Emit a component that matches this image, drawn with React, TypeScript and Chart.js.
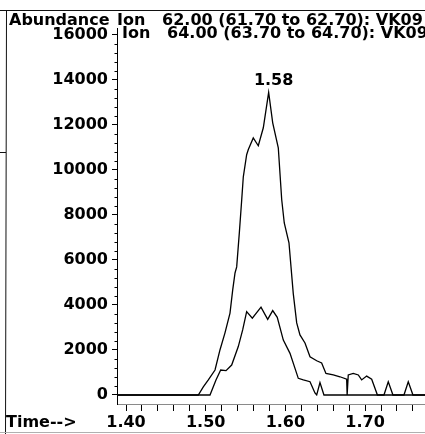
import React, { useEffect, useRef } from "react";
import { Chart, registerables } from "chart.js";

Chart.register(...registerables);

// Ion 62.00 trace (retention time in minutes, abundance)
const ion62Times = [
  1.385, 1.4907, 1.497, 1.5033, 1.5117, 1.5179, 1.5242, 1.5305, 1.5339, 1.5368,
  1.5389, 1.5422, 1.5452, 1.5472, 1.5514, 1.5535, 1.5597, 1.566, 1.5723, 1.579,
  1.5841, 1.5911, 1.5954, 1.5986, 1.6045, 1.6099, 1.6142, 1.6183, 1.6246, 1.6309,
  1.6393, 1.6455, 1.6509, 1.6601, 1.6685, 1.6769, 1.6775, 1.6789, 1.6852, 1.6915,
  1.6957, 1.702, 1.7083, 1.7155, 1.7237, 1.7291, 1.735, 1.7488, 1.7542, 1.7601,
  1.78,
];
const ion62Values = [
  0, 0, 360, 670, 1110, 2000, 2760, 3640, 4670, 5420,
  5690, 7200, 8670, 9690, 10670, 10900, 11420, 11070, 11870, 13440,
  12090, 10980, 8670, 7640, 6760, 4500, 3200, 2670, 2310, 1700,
  1520, 1420, 960, 890, 810, 700, 0, 890, 960, 890,
  670, 840, 700, 0, 0, 590, 0, 0, 590, 0,
  0,
];

// Ion 64.00 trace
const ion64Times = [
  1.385, 1.5054, 1.5129, 1.5188, 1.5255, 1.5326, 1.5409, 1.5464, 1.5514, 1.5585,
  1.5694, 1.5778, 1.5841, 1.5898, 1.5974, 1.6058, 1.6162, 1.6225, 1.6309, 1.6371,
  1.6393, 1.6434, 1.6484, 1.78,
];
const ion64Values = [
  0, 0, 670, 1110, 1080, 1330, 2150, 2890, 3700, 3410,
  3900, 3360, 3750, 3450, 2440, 1850, 740, 670, 590, 90,
  0, 550, 0, 0,
];

const headerLines = [
  "Ion   62.00 (61.70 to 62.70): VK09",
  "Ion   64.00 (63.70 to 64.70): VK09",
];
const yAxisTitle = "Abundance";
const xAxisTitle = "Time-->";
const peakLabel = "1.58";
const peakTime = 1.579;
const peakValue = 13440;

// axis ticks
const yTickValues = [0, 2000, 4000, 6000, 8000, 10000, 12000, 14000, 16000];
const xTickValues = [
  1.4, 1.42, 1.44, 1.46, 1.48, 1.5, 1.52, 1.54, 1.56, 1.58, 1.6, 1.62, 1.64, 1.66,
  1.68, 1.7, 1.72, 1.74, 1.76,
];
const xTickLabels = ["1.40", "1.50", "1.60", "1.70"];

const xMin = 1.3887;
const xMax = 1.7752;
const yMin = -400;
const yMax = 16300;
const yMinorStep = 400;

const FONT = '"DejaVu Sans", "Liberation Sans", sans-serif';

const decorPlugin = {
  id: "decor",
  beforeDraw(chart: any) {
    const ctx = chart.ctx;
    ctx.save();
    ctx.fillStyle = "#fff";
    ctx.fillRect(0, 0, chart.width, chart.height);
    ctx.restore();
  },
  afterDraw(chart: any) {
    const ctx = chart.ctx;
    const xs = chart.scales.x;
    const ys = chart.scales.y;
    ctx.save();
    const line = (x1: number, y1: number, x2: number, y2: number) => {
      ctx.beginPath();
      ctx.moveTo(x1, y1);
      ctx.lineTo(x2, y2);
      ctx.stroke();
    };
    // page frame
    ctx.strokeStyle = "#111";
    ctx.lineWidth = 1;
    line(0, 10.5, chart.width, 10.5);
    line(6.5, 10, 5.5, chart.height);
    line(0, 152.5, 6, 152.5);
    ctx.strokeStyle = "#b0b0b0";
    line(0, 432.5, chart.width, 432.5);

    // minor y ticks
    ctx.strokeStyle = "#000";
    const top = yTickValues[yTickValues.length - 1];
    for (let v = yMinorStep; v < top; v += yMinorStep) {
      if (yTickValues.indexOf(v) >= 0) continue;
      const py = Math.round(ys.getPixelForValue(v)) + 0.5;
      line(xs.left - 2.5, py, xs.left, py);
    }

    // texts
    ctx.fillStyle = "#000";
    ctx.font = `bold 16px ${FONT}`;
    ctx.textBaseline = "alphabetic";
    ctx.textAlign = "left";
    ctx.fillText(yAxisTitle, 9, 25);
    ctx.fillText(headerLines[0], 117, 25);
    ctx.fillText(headerLines[1], 122, 38);
    ctx.fillText(xAxisTitle, 6, 427);

    ctx.textAlign = "center";
    const px = xs.getPixelForValue(peakTime);
    const py = ys.getPixelForValue(peakValue);
    ctx.fillText(peakLabel, px + 5, py - 7);
    ctx.restore();
  },
};

export default function App() {
  const ref = useRef<HTMLCanvasElement | null>(null);

  useEffect(() => {
    if (!ref.current) return;
    const toPts = (ts: number[], vs: number[]) => ts.map((t, i) => ({ x: t, y: vs[i] }));
    const tickFont = { family: FONT, size: 16, weight: "bold" as const };
    const chart = new Chart(ref.current, {
      type: "line",
      data: {
        datasets: [
          {
            label: headerLines[0],
            data: toPts(ion62Times, ion62Values),
            borderColor: "#000",
            borderWidth: 1.3,
            pointRadius: 0,
            tension: 0,
            fill: false,
          },
          {
            label: headerLines[1],
            data: toPts(ion64Times, ion64Values),
            borderColor: "#000",
            borderWidth: 1.3,
            pointRadius: 0,
            tension: 0,
            fill: false,
          },
        ],
      },
      options: {
        animation: false,
        responsive: false,
        devicePixelRatio: 1,
        layout: { padding: { top: 28, left: 0, right: 0, bottom: 0 } },
        plugins: {
          legend: { display: false },
          tooltip: { enabled: false },
          title: { display: false },
        },
        scales: {
          x: {
            type: "linear",
            min: xMin,
            max: xMax,
            afterBuildTicks: (s: any) => {
              s.ticks = xTickValues.map((v) => ({ value: v }));
            },
            afterFit: (s: any) => {
              s.height = 30;
            },
            border: { display: true, color: "#8a8a8a", width: 1 },
            grid: {
              drawOnChartArea: false,
              drawTicks: true,
              tickLength: 7,
              tickColor: "#000",
              color: "#000",
            },
            ticks: {
              autoSkip: false,
              maxRotation: 0,
              padding: 2,
              color: "#000",
              font: tickFont,
              callback: (v: any) => {
                const n = Number(v);
                const s = n.toFixed(2);
                return xTickLabels.indexOf(s) >= 0 ? s : "";
              },
            },
          },
          y: {
            type: "linear",
            min: yMin,
            max: yMax,
            afterBuildTicks: (s: any) => {
              s.ticks = yTickValues.map((v) => ({ value: v }));
            },
            afterFit: (s: any) => {
              s.width = 117;
            },
            border: { display: true, color: "#000", width: 1 },
            grid: {
              drawOnChartArea: false,
              drawTicks: true,
              tickLength: 5,
              tickColor: "#000",
              color: "#000",
            },
            ticks: {
              autoSkip: false,
              padding: 4,
              color: "#000",
              font: tickFont,
              callback: (v: any) => String(Math.round(Number(v))),
            },
          },
        },
      } as any,
      plugins: [decorPlugin],
    });
    return () => chart.destroy();
  }, []);

  return (
    <div style={{ position: "absolute", left: 0, top: 0, width: 425, height: 434, background: "#fff" }}>
      <canvas ref={ref} width={425} height={434} style={{ display: "block" }} />
    </div>
  );
}
